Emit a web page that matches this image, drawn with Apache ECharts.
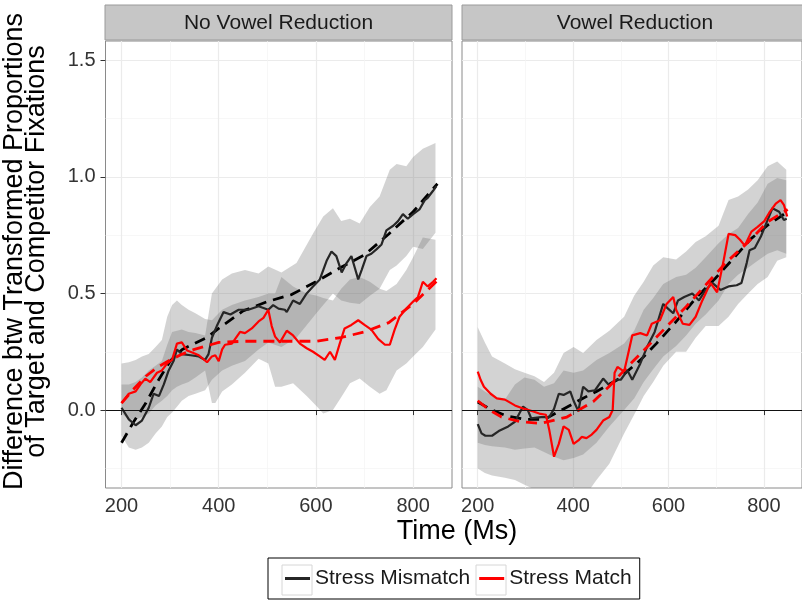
<!DOCTYPE html>
<html>
<head>
<meta charset="utf-8">
<script src="https://cdn.jsdelivr.net/npm/echarts@6/dist/echarts.min.js"></script>
<style>
  html, body { margin: 0; padding: 0; background: #fff; }
  #chart { width: 802px; height: 604px; }
</style>
</head>
<body>
<div id="chart"></div>
<script>
const panels = ['No Vowel Reduction', 'Vowel Reduction'];
const groups = ['Stress Mismatch', 'Stress Match'];
const xTicks = [200, 400, 600, 800];
const yTicks = [0, 0.5, 1, 1.5];

// No Vowel Reduction: observed curves [time, value]
const mismatchNoRed = [[200,0.01],[215,-0.04],[229,-0.065],[242,-0.045],[256,0.01],[266,0.07],[277,0.06],[287,0.11],[297,0.17],[307,0.21],[314,0.26],[324,0.24],[342,0.235],[359,0.23],[372,0.215],[379,0.24],[386,0.31],[396,0.36],[410,0.42],[424,0.41],[441,0.43],[461,0.43],[482,0.445],[502,0.43],[512,0.45],[523,0.435],[536,0.43],[540,0.42],[553,0.47],[567,0.455],[581,0.50],[594,0.53],[608,0.56],[622,0.64],[632,0.68],[642,0.66],[653,0.59],[663,0.63],[673,0.66],[680,0.61],[687,0.56],[694,0.60],[704,0.66],[714,0.67],[725,0.69],[735,0.71],[745,0.77],[759,0.79],[769,0.81],[779,0.84],[789,0.82],[800,0.84],[813,0.86],[824,0.90],[830,0.91],[841,0.94],[848,0.96]];
const matchNoRed = [[200,0.03],[215,0.07],[229,0.08],[239,0.11],[249,0.135],[259,0.12],[273,0.16],[283,0.17],[294,0.20],[304,0.215],[314,0.285],[324,0.29],[335,0.255],[348,0.245],[359,0.235],[376,0.205],[386,0.23],[393,0.235],[400,0.21],[407,0.26],[413,0.28],[427,0.285],[444,0.335],[454,0.33],[468,0.35],[482,0.38],[492,0.395],[502,0.43],[509,0.36],[516,0.315],[526,0.29],[540,0.34],[553,0.32],[567,0.285],[581,0.265],[594,0.25],[608,0.23],[618,0.215],[629,0.25],[639,0.215],[649,0.285],[659,0.35],[673,0.365],[687,0.385],[700,0.365],[714,0.345],[728,0.305],[742,0.28],[752,0.28],[762,0.345],[772,0.40],[786,0.435],[800,0.465],[810,0.485],[820,0.55],[830,0.53],[841,0.55],[848,0.565]];
// No Vowel Reduction: fitted curves
const mismatchFitNoRed = [[200,-0.14],[225,-0.05],[250,0.03],[275,0.125],[300,0.21],[325,0.26],[350,0.285],[375,0.31],[400,0.35],[450,0.425],[500,0.465],[550,0.495],[600,0.55],[650,0.61],[700,0.665],[750,0.755],[800,0.85],[850,0.97]];
const matchFitNoRed = [[200,0.03],[225,0.09],[250,0.145],[275,0.185],[300,0.215],[325,0.24],[350,0.26],[375,0.275],[400,0.29],[450,0.295],[500,0.295],[550,0.295],[600,0.295],[650,0.31],[700,0.335],[750,0.375],[800,0.455],[850,0.555]];
// No Vowel Reduction: confidence bands [time, lower, upper]
const mismatchBandNoRed = [[200,-0.11,0.11],[215,-0.16,0.11],[229,-0.17,0.12],[242,-0.16,0.14],[256,-0.14,0.17],[270,-0.10,0.19],[283,-0.07,0.21],[294,-0.03,0.28],[304,-0.01,0.335],[314,0.014,0.34],[324,0.04,0.345],[338,0.06,0.335],[352,0.07,0.33],[372,0.085,0.32],[386,0.13,0.50],[407,0.17,0.56],[427,0.19,0.585],[454,0.21,0.60],[482,0.26,0.585],[502,0.29,0.615],[529,0.27,0.59],[560,0.31,0.63],[595,0.40,0.76],[615,0.45,0.83],[635,0.50,0.865],[652,0.47,0.81],[670,0.46,0.82],[690,0.455,0.80],[711,0.49,0.87],[731,0.52,0.915],[752,0.60,1.03],[766,0.62,1.055],[786,0.66,1.045],[800,0.70,1.085],[820,0.69,1.12],[846,0.76,1.145]];
const matchBandNoRed = [[200,-0.015,0.20],[215,-0.04,0.205],[229,-0.04,0.215],[242,-0.03,0.23],[256,-0.015,0.24],[270,0.02,0.27],[283,0.04,0.30],[294,0.06,0.40],[304,0.085,0.45],[314,0.10,0.47],[324,0.11,0.45],[338,0.12,0.43],[352,0.14,0.415],[372,0.17,0.39],[386,0.03,0.385],[393,0.03,0.40],[407,0.08,0.43],[427,0.11,0.45],[454,0.16,0.47],[482,0.22,0.485],[502,0.20,0.50],[516,0.10,0.50],[529,0.10,0.57],[553,0.115,0.53],[581,0.06,0.50],[602,0.015,0.49],[615,-0.015,0.48],[635,0.0,0.47],[652,0.055,0.52],[670,0.115,0.56],[690,0.135,0.57],[711,0.10,0.55],[731,0.07,0.52],[745,0.085,0.51],[766,0.17,0.54],[786,0.20,0.60],[800,0.23,0.655],[820,0.27,0.74],[846,0.345,0.73]];

// Vowel Reduction: observed curves
const mismatchRed = [[200,-0.06],[208,-0.10],[216,-0.11],[230,-0.11],[244,-0.09],[264,-0.07],[278,-0.05],[295,0.015],[305,0.0],[312,-0.035],[333,-0.03],[350,-0.03],[360,0.005],[370,0.07],[380,0.065],[394,0.08],[401,0.04],[411,-0.005],[416,0.05],[421,0.10],[432,0.08],[446,0.085],[463,0.135],[476,0.105],[490,0.13],[500,0.13],[514,0.17],[524,0.13],[541,0.20],[555,0.27],[571,0.335],[589,0.455],[599,0.435],[610,0.415],[620,0.47],[633,0.485],[650,0.50],[664,0.47],[678,0.515],[692,0.545],[709,0.515],[726,0.53],[743,0.535],[753,0.545],[764,0.63],[770,0.685],[781,0.695],[794,0.745],[808,0.815],[818,0.865],[832,0.85],[842,0.815],[848,0.82]];
const matchRed = [[200,0.165],[206,0.13],[213,0.10],[227,0.07],[240,0.05],[257,0.045],[278,0.02],[298,0.005],[315,-0.005],[329,-0.015],[343,-0.02],[350,-0.085],[360,-0.20],[370,-0.145],[380,-0.07],[391,-0.085],[401,-0.145],[411,-0.13],[418,-0.115],[428,-0.12],[439,-0.105],[449,-0.085],[463,-0.045],[476,-0.03],[483,0.0],[487,0.16],[493,0.185],[507,0.165],[517,0.255],[524,0.32],[541,0.33],[555,0.32],[565,0.37],[582,0.385],[596,0.455],[610,0.485],[616,0.43],[630,0.37],[644,0.365],[657,0.40],[671,0.47],[688,0.545],[702,0.505],[716,0.645],[726,0.755],[740,0.75],[750,0.73],[760,0.705],[774,0.765],[787,0.785],[801,0.81],[811,0.845],[825,0.885],[835,0.90],[842,0.88],[849,0.83]];
// Vowel Reduction: fitted curves
const mismatchFitRed = [[200,0.035],[230,0.0],[260,-0.025],[300,-0.04],[340,-0.04],[380,0.005],[420,0.05],[449,0.08],[493,0.13],[541,0.214],[575,0.286],[616,0.379],[657,0.479],[698,0.564],[733,0.643],[774,0.736],[808,0.793],[850,0.85]];
const matchFitRed = [[200,0.04],[225,0.0],[250,-0.03],[290,-0.05],[333,-0.057],[387,-0.03],[420,0.01],[442,0.036],[475,0.1],[521,0.2],[555,0.27],[599,0.364],[637,0.443],[678,0.536],[719,0.629],[767,0.72],[808,0.807],[850,0.86]];
// Vowel Reduction: confidence bands [time, lower, upper]
const mismatchBandRed = [[200,-0.25,0.10],[215,-0.27,0.08],[230,-0.28,0.06],[257,-0.29,0.045],[278,-0.30,0.11],[298,-0.32,0.14],[319,-0.34,0.13],[339,-0.36,0.10],[360,-0.38,0.115],[380,-0.40,0.17],[401,-0.40,0.16],[421,-0.38,0.17],[449,-0.30,0.215],[476,-0.23,0.245],[507,-0.10,0.285],[528,-0.02,0.34],[548,0.06,0.43],[568,0.12,0.48],[589,0.19,0.54],[616,0.25,0.57],[637,0.25,0.58],[657,0.31,0.61],[678,0.36,0.655],[705,0.36,0.715],[726,0.40,0.755],[746,0.455,0.78],[767,0.50,0.84],[787,0.54,0.89],[808,0.57,0.97],[828,0.64,0.995],[847,0.655,0.985]];
const matchBandRed = [[200,-0.14,0.355],[215,-0.15,0.29],[230,-0.155,0.23],[257,-0.16,0.20],[278,-0.17,0.175],[298,-0.165,0.16],[319,-0.16,0.145],[339,-0.18,0.12],[360,-0.20,0.16],[380,-0.215,0.245],[401,-0.205,0.27],[421,-0.19,0.245],[449,-0.14,0.30],[476,-0.07,0.34],[507,0.0,0.40],[528,0.05,0.49],[548,0.12,0.55],[568,0.175,0.62],[589,0.23,0.655],[616,0.275,0.645],[637,0.32,0.68],[657,0.37,0.72],[678,0.41,0.745],[705,0.47,0.79],[726,0.54,0.90],[746,0.58,0.915],[767,0.61,0.945],[787,0.64,0.985],[808,0.67,1.045],[828,0.685,1.065],[847,0.67,1.03]];

const FONT = '"Liberation Sans", Arial, sans-serif';
const BAND = 'rgba(110,110,110,0.3)';
const BLACK = '#262626';
const RED = '#ff0000';

function band(rows, idx, name) {
  return {
    type: 'custom',
    name: name,
    xAxisIndex: idx,
    yAxisIndex: idx,
    clip: true,
    silent: true,
    data: [[rows[0][0], rows[0][1]]],
    renderItem: function (params, api) {
      const top = rows.map(r => api.coord([r[0], r[2]]));
      const bottom = rows.slice().reverse().map(r => api.coord([r[0], r[1]]));
      return {
        type: 'polygon',
        shape: { points: top.concat(bottom) },
        style: { fill: BAND }
      };
    }
  };
}

function line(name, data, idx, color, width, dashed) {
  return {
    type: 'line',
    name: name,
    xAxisIndex: idx,
    yAxisIndex: idx,
    data: data,
    color: color,
    symbol: 'none',
    silent: true,
    clip: true,
    lineStyle: { color: color, width: width, type: dashed ? [11, 7] : 'solid' }
  };
}

function zeroLine(s) {
  s.markLine = {
    silent: true,
    symbol: 'none',
    label: { show: false },
    lineStyle: { color: '#111', width: 1.2, type: 'solid' },
    data: [{ yAxis: 0 }]
  };
  return s;
}

const grids = [
  { left: 105, top: 41, width: 347, height: 447 },
  { left: 462, top: 41, width: 347, height: 447 }
].map(g => Object.assign(g, { show: true, backgroundColor: '#fff', borderColor: '#8a8a8a', borderWidth: 1 }));

const xAxes = [0, 1].map(i => ({
  type: 'value',
  gridIndex: i,
  min: 167,
  max: 880,
  splitNumber: 3,
  axisLine: { show: false },
  axisTick: { show: true, length: 5, customValues: xTicks, lineStyle: { color: '#333' } },
  axisLabel: { fontSize: 20, color: '#333', margin: 8, fontFamily: FONT, customValues: xTicks },
  splitLine: { show: true, lineStyle: { color: '#ebebeb', width: 1.2 } },
  minorTick: { show: false, splitNumber: 2 },
  minorSplitLine: { show: true, lineStyle: { color: '#f3f3f3', width: 0.7 } }
}));

const yAxes = [0, 1].map(i => ({
  type: 'value',
  gridIndex: i,
  min: -0.334,
  max: 1.582,
  splitNumber: 4,
  axisLine: { show: false },
  axisTick: { show: i === 0, length: 5, customValues: yTicks, lineStyle: { color: '#333' } },
  axisLabel: { show: i === 0, fontSize: 20, color: '#333', margin: 10, fontFamily: FONT, customValues: yTicks, formatter: v => v.toFixed(1) },
  splitLine: { show: true, lineStyle: { color: '#ebebeb', width: 1.2 } },
  minorTick: { show: false, splitNumber: 2 },
  minorSplitLine: { show: true, lineStyle: { color: '#f3f3f3', width: 0.7 } }
}));
yAxes[0].name = 'Difference btw Transformed Proportions\nof Target and Competitor Fixations';
yAxes[0].nameLocation = 'middle';
yAxes[0].nameRotate = 90;
yAxes[0].nameGap = 58;
yAxes[0].nameTextStyle = { fontSize: 27, lineHeight: 22, color: '#000', fontFamily: FONT, padding: [0, 0, 0, 26] };

const series = [
  band(mismatchBandNoRed, 0, 'band mismatch'),
  band(matchBandNoRed, 0, 'band match'),
  zeroLine(line('fit mismatch', mismatchFitNoRed, 0, '#000', 2.8, true)),
  line(groups[0], mismatchNoRed, 0, BLACK, 2.2, false),
  line(groups[1], matchNoRed, 0, RED, 2.2, false),
  line('fit match', matchFitNoRed, 0, RED, 2.8, true),

  band(mismatchBandRed, 1, 'band mismatch'),
  band(matchBandRed, 1, 'band match'),
  zeroLine(line('fit mismatch', mismatchFitRed, 1, '#000', 2.8, true)),
  line(groups[0], mismatchRed, 1, BLACK, 2.2, false),
  line(groups[1], matchRed, 1, RED, 2.2, false),
  line('fit match', matchFitRed, 1, RED, 2.8, true)
];

function strip(x, width, cx, label) {
  return [
    { type: 'rect', shape: { x: x, y: 5, width: width, height: 35 },
      style: { fill: '#c6c6c6', stroke: '#9a9a9a', lineWidth: 1 }, silent: true },
    { type: 'text', x: cx, y: 23,
      style: { text: label, fill: '#1a1a1a', font: '21px ' + FONT, align: 'center', verticalAlign: 'middle' }, silent: true }
  ];
}

const chart = echarts.init(document.getElementById('chart'));

chart.setOption({
  animation: false,
  backgroundColor: '#fff',
  grid: grids,
  xAxis: xAxes,
  yAxis: yAxes,
  legend: {
    data: groups,
    left: 268,
    top: 558,
    orient: 'horizontal',
    icon: 'rect',
    itemWidth: 25,
    itemHeight: 3,
    itemGap: 9,
    padding: [10, 8, 10, 17],
    borderColor: '#000',
    borderWidth: 1,
    selectedMode: false,
    textStyle: { fontSize: 21, color: '#1a1a1a', fontFamily: FONT }
  },
  graphic: [
    ...strip(105, 347, 278.5, panels[0]),
    ...strip(462, 360, 635, panels[1]),
    { type: 'text', x: 457, y: 532,
      style: { text: 'Time (Ms)', fill: '#000', font: '27px ' + FONT, align: 'center', verticalAlign: 'middle' }, silent: true },
    { type: 'rect', shape: { x: 282, y: 565, width: 30, height: 30 },
      style: { fill: 'none', stroke: '#d6d6d6', lineWidth: 1 }, silent: true },
    { type: 'rect', shape: { x: 476, y: 565, width: 30, height: 30 },
      style: { fill: 'none', stroke: '#d6d6d6', lineWidth: 1 }, silent: true }
  ],
  series: series
});
</script>
</body>
</html>
